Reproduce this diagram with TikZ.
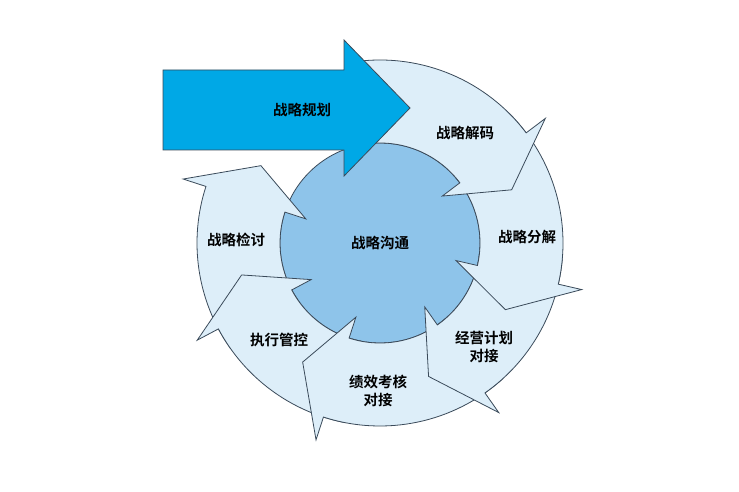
\documentclass[tikz,border=0pt]{standalone}
\usepackage{fontspec}
\setmainfont{Noto Sans CJK SC Bold}
\usetikzlibrary{positioning}
\definecolor{ringblue}{HTML}{DDEEF9}
\definecolor{hubblue}{HTML}{8EC4EA}
\definecolor{planblue}{HTML}{00A8E6}
\definecolor{edgegray}{HTML}{3A4A5A}

% one curved arrow of the ring: tail angle, head base angle, tip angle
\newcommand{\ringarrow}[3]{%
  \filldraw[ring] (#1:183) arc[start angle=#1,end angle=#2,radius=183]
    -- (#2:207) -- (#3:142) -- (#2:78) -- (#2:100)
    arc[start angle=#2,end angle=#1,radius=100] -- ({#1-9}:142) -- cycle;}

\begin{document}
\begin{tikzpicture}[x=1pt,y=1pt,
  ring/.style={fill=ringblue,draw=edgegray,line width=0.8pt,line join=miter},
  lbl/.style={font=\fontsize{14.5}{18}\selectfont,align=center,text=black}]

\useasboundingbox (0,0) rectangle (739,491);
\fill[white] (0,0) rectangle (739,491);

\begin{scope}[shift={(380,248)}]
\filldraw[fill=hubblue,draw=edgegray,line width=0.8pt] (0,0) circle (100);

\ringarrow{215}{162}{147}
\ringarrow{-101}{-152}{-167}
\ringarrow{-48}{-108}{-123}
\ringarrow{-5}{-55}{-70}
\ringarrow{45}{-13}{-28}
\ringarrow{97}{37}{22}
\node[lbl] (hub) at (0,0) {战略沟通};
\end{scope}

\node[lbl] (decode)  at (465,358) {战略解码};
\node[lbl] (split)   at (527,254) {战略分解};
\node[lbl] (biz)     at (484,144) {经营计划\\对接};
\node[lbl] (perf)    at (378,100) {绩效考核\\对接};
\node[lbl] (exec)    at (279,151) {执行管控};
\node[lbl] (review)  at (236,251) {战略检讨};

% big entry arrow
\filldraw[fill=planblue,draw=edgegray,line width=0.8pt]
  (163,421) -- (344,421) -- (344,451) -- (410,383) -- (344,315)
  -- (344,341) -- (163,341) -- cycle;
\node[lbl] (plan) at (302,381) {战略规划};
\end{tikzpicture}
\end{document}
